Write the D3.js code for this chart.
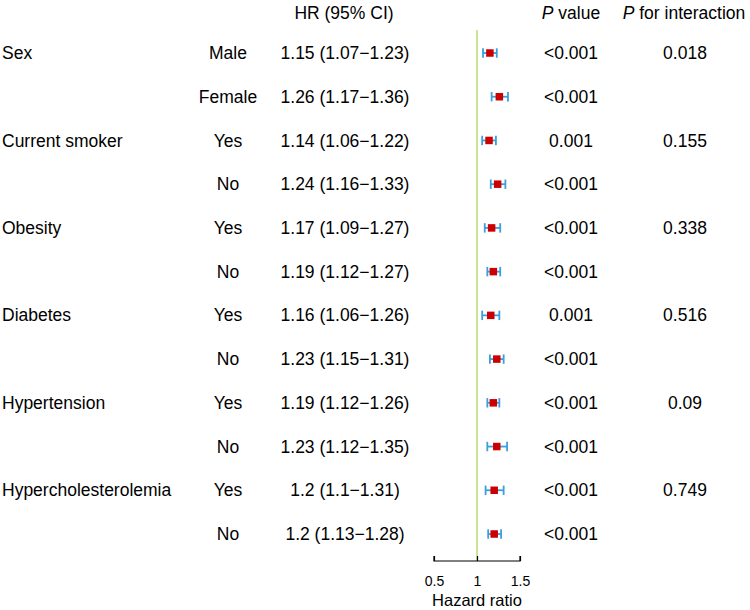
<!DOCTYPE html>
<html>
<head>
<meta charset="utf-8">
<script src="https://cdn.jsdelivr.net/npm/d3@7"></script>
<style>
  body { margin: 0; background: #fff; }
  text { font-family: "Liberation Sans", Arial, sans-serif; }
</style>
</head>
<body>
<svg id="chart" width="750" height="610"></svg>
<script>
// subgroup rows, top to bottom
const groups = ['Sex', '', 'Current smoker', '', 'Obesity', '', 'Diabetes', '', 'Hypertension', '', 'Hypercholesterolemia', ''];
const subgroups = ['Male', 'Female', 'Yes', 'No', 'Yes', 'No', 'Yes', 'No', 'Yes', 'No', 'Yes', 'No'];
const hr = [1.15, 1.26, 1.14, 1.24, 1.17, 1.19, 1.16, 1.23, 1.19, 1.23, 1.2, 1.2];
const lower = [1.07, 1.17, 1.06, 1.16, 1.09, 1.12, 1.06, 1.15, 1.12, 1.12, 1.1, 1.13];
const upper = [1.23, 1.36, 1.22, 1.33, 1.27, 1.27, 1.26, 1.31, 1.26, 1.35, 1.31, 1.28];
const pValues = ['<0.001', '<0.001', '0.001', '<0.001', '<0.001', '<0.001', '0.001', '<0.001', '<0.001', '<0.001', '<0.001', '<0.001'];
const pInteraction = ['0.018', '', '0.155', '', '0.338', '', '0.516', '', '0.09', '', '0.749', ''];
const xTicks = [0.5, 1, 1.5];

const svg = d3.select('#chart');
const FONT_SIZE = 17.5;
const TICK_FONT_SIZE = 14;
const MARKER_FILL = '#cc0000';
const CI_STROKE = '#3a9fdc';
const REF_STROKE = '#b5dc6e';

const rows = d3.range(hr.length);
const y = d3.scalePoint().domain(rows).range([53, 534]);
const x = d3.scaleLinear().domain([0.5, 1.5]).range([434, 520]);

const axisY = 561;

// column text helper
function addColumn(values, xPos, anchor) {
  svg.append('g')
    .selectAll('text')
    .data(values)
    .join('text')
    .attr('x', xPos)
    .attr('y', (d, i) => y(i))
    .attr('dy', '0.35em')
    .attr('text-anchor', anchor)
    .attr('font-size', FONT_SIZE)
    .attr('fill', '#000')
    .text(d => d);
}

addColumn(groups, 2, 'start');
addColumn(subgroups, 228, 'middle');
addColumn(rows.map(i => `${hr[i]} (${lower[i]}\u2212${upper[i]})`), 345, 'middle');
addColumn(pValues, 571, 'middle');
addColumn(pInteraction, 685, 'middle');

// headers
const headerY = 12.5;
svg.append('text')
  .attr('x', 344).attr('y', headerY).attr('dy', '0.35em')
  .attr('text-anchor', 'middle').attr('font-size', FONT_SIZE)
  .text('HR (95% CI)');

const pHead = svg.append('text')
  .attr('x', 571).attr('y', headerY).attr('dy', '0.35em')
  .attr('text-anchor', 'middle').attr('font-size', FONT_SIZE);
pHead.append('tspan').attr('font-style', 'italic').text('P');
pHead.append('tspan').text(' value');

const piHead = svg.append('text')
  .attr('x', 684).attr('y', headerY).attr('dy', '0.35em')
  .attr('text-anchor', 'middle').attr('font-size', FONT_SIZE);
piHead.append('tspan').attr('font-style', 'italic').text('P');
piHead.append('tspan').text(' for interaction');

// reference line at HR = 1
svg.append('line')
  .attr('x1', x(1)).attr('x2', x(1))
  .attr('y1', 30).attr('y2', axisY)
  .attr('stroke', REF_STROKE)
  .attr('stroke-width', 1.5);

// confidence intervals
const ci = svg.append('g')
  .attr('stroke', CI_STROKE)
  .attr('stroke-width', 1.8)
  .selectAll('g')
  .data(rows)
  .join('g');

ci.append('line')
  .attr('x1', i => x(lower[i])).attr('x2', i => x(upper[i]))
  .attr('y1', i => y(i)).attr('y2', i => y(i));
ci.append('line')
  .attr('x1', i => x(lower[i])).attr('x2', i => x(lower[i]))
  .attr('y1', i => y(i) - 4.7).attr('y2', i => y(i) + 4.7);
ci.append('line')
  .attr('x1', i => x(upper[i])).attr('x2', i => x(upper[i]))
  .attr('y1', i => y(i) - 4.7).attr('y2', i => y(i) + 4.7);

// point estimates
const box = 7.5;
svg.append('g')
  .selectAll('rect')
  .data(rows)
  .join('rect')
  .attr('x', i => x(hr[i]) - box / 2)
  .attr('y', i => y(i) - box / 2)
  .attr('width', box)
  .attr('height', box)
  .attr('fill', MARKER_FILL);

// x axis, ticks pointing up
const axis = svg.append('g')
  .attr('transform', `translate(0, ${axisY})`)
  .call(d3.axisTop(x).tickValues(xTicks).tickSize(5).tickFormat(d3.format('')));
axis.select('.domain').attr('d', `M${x(0.5)},-5V0H${x(1.5)}V-5`).attr('stroke', '#000').attr('stroke-width', 1.2);
axis.selectAll('.tick line').attr('stroke', '#000').attr('stroke-width', 1.2);
axis.selectAll('.tick text')
  .attr('y', 20.5)
  .attr('dy', '0.35em')
  .attr('font-size', TICK_FONT_SIZE)
  .attr('font-family', '"Liberation Sans", Arial, sans-serif')
  .attr('fill', '#000');

// axis title, placed by baseline so it stays inside the frame
svg.append('text')
  .attr('x', x(1)).attr('y', 606)
  .attr('text-anchor', 'middle').attr('font-size', 16.5)
  .text('Hazard ratio');
</script>
</body>
</html>
